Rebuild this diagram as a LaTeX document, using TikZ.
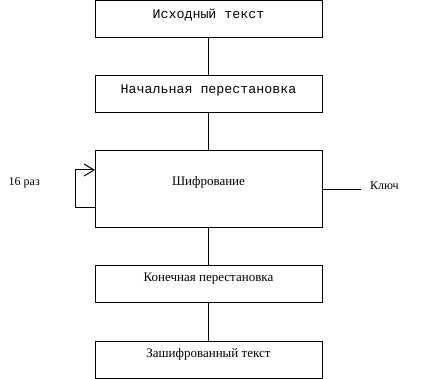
\documentclass[tikz,border=0pt]{standalone}
\usepackage{fontspec}
\setmainfont{Liberation Serif}
\newfontfamily\boxmono{Liberation Mono}
\usetikzlibrary{arrows.meta, positioning}
\tikzset{
  stage/.style     = {rectangle, draw=black, line width=1pt, fill=white,
                      minimum width=227pt, inner sep=0pt, outer sep=0pt,
                      text height=16pt, text depth=21pt, font=\fontsize{13}{15}\selectfont},
  monostage/.style = {stage, text height=18pt, text depth=19pt,
                      font=\boxmono\fontsize{13.3}{16}\selectfont},
  bigstage/.style  = {stage, text height=35pt, text depth=42pt},
  link/.style      = {line width=1pt, draw=black},
  looparrow/.style = {-{Straight Barb[length=10pt, width=12pt]}, line width=1pt, draw=black},
  sidelab/.style   = {font=\fontsize{12}{14}\selectfont, inner sep=0pt},
}

\begin{document}
\begin{tikzpicture}[x=1pt, y=1pt, node distance=38pt]
\useasboundingbox (0,0) rectangle (436,-379);

% ---------- Stages ----------
\node[monostage, anchor=north] (plain) at (208.5,-0.5) {Исходный текст};
\node[monostage, below=38.5pt of plain] (ip) {Начальная перестановка};
\node[bigstage, below=of ip] (enc) {Шифрование};
\node[stage, below=37pt of enc] (fp) {Конечная перестановка};
\node[stage, below=39pt of fp] (cipher) {Зашифрованный текст};

% ---------- Side labels ----------
\node[sidelab, left=55pt of enc.west, yshift=6.5pt] (rounds) {16 раз};
\node[sidelab, inner xsep=9pt, anchor=base west] (key) at ([xshift=39pt]enc.east) {Ключ};

% ---------- Edges ----------
\draw[link] (plain) -- (ip);
\draw[link] (ip) -- (enc);
\draw[link] (enc) -- (fp);
\draw[link] (fp) -- (cipher);
\draw[link] (enc.east) -- (key.base west);
\draw[looparrow] ([yshift=-18.5pt]enc.west) -- ++(-20pt,0) |- ([yshift=19.5pt]enc.west);

\end{tikzpicture}
\end{document}
